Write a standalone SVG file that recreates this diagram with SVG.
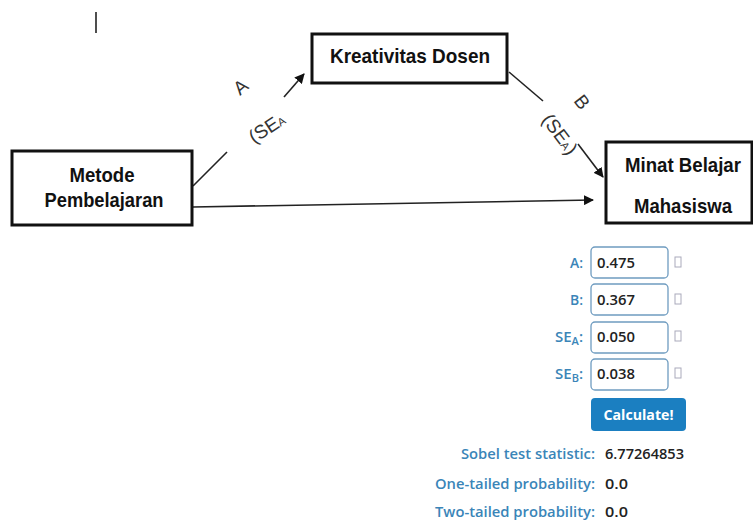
<svg xmlns="http://www.w3.org/2000/svg" width="753" height="522" viewBox="0 0 753 522">
<defs>
<marker id="ah" markerWidth="10" markerHeight="10" refX="9" refY="5" orient="auto" markerUnits="userSpaceOnUse">
<path d="M0,0 L10,5 L0,10 Z" fill="#111"/>
</marker>
<style>
.box{fill:#fff;stroke:#111;stroke-width:3}
.nt{font-family:"Liberation Sans",Arial,sans-serif;font-weight:bold;font-size:21px;fill:#111;text-anchor:middle}
.el{font-family:"Liberation Sans",Arial,sans-serif;font-size:19px;fill:#333}
.ln{stroke:#222;stroke-width:1.6;fill:none}
.lb{font-family:"Open Sans","Noto Sans",sans-serif;font-weight:600;font-size:15px;fill:#3a85b8;text-anchor:end}
.val{font-family:"Open Sans","Noto Sans",sans-serif;font-weight:600;font-size:15px;fill:#222}
.inp{fill:#fff;stroke:#6f9cc0;stroke-width:1.3}
.ic{fill:none;stroke:#aab;stroke-width:1}
</style>
</defs>
<line x1="96" y1="12" x2="96" y2="33" stroke="#222" stroke-width="1.6"/>
<g id="connectors">
<line class="ln" x1="193" y1="186" x2="227" y2="152"/>
<line class="ln" x1="284" y1="97" x2="304" y2="74" marker-end="url(#ah)"/>
<line class="ln" x1="509" y1="72" x2="543" y2="101"/>
<line class="ln" x1="578" y1="144" x2="603" y2="177" marker-end="url(#ah)"/>
<line class="ln" x1="193" y1="207" x2="593" y2="200" marker-end="url(#ah)"/>
<text class="el" transform="translate(240,96) rotate(-40)">A</text>
<text class="el" transform="translate(254,144) rotate(-33)">(SE<tspan font-size="11">A</tspan></text>
<text class="el" transform="translate(573,101) rotate(52)">B</text>
<text class="el" transform="translate(541,120) rotate(53)">(SE<tspan font-size="11">A</tspan>)</text>
</g>
<g id="node-metode">
<rect class="box" x="12" y="151" width="180" height="74"/>
<text class="nt" x="102" y="182" textLength="65" lengthAdjust="spacingAndGlyphs">Metode</text>
<text class="nt" x="104" y="207" textLength="119" lengthAdjust="spacingAndGlyphs">Pembelajaran</text>
</g>
<g id="node-kreativitas">
<rect class="box" x="312" y="34" width="195" height="49"/>
<text class="nt" x="410" y="63" textLength="160" lengthAdjust="spacingAndGlyphs">Kreativitas Dosen</text>
</g>
<g id="node-minat">
<rect class="box" x="606" y="142" width="146" height="81"/>
<text class="nt" x="683" y="172" font-size="19.5" textLength="116" lengthAdjust="spacingAndGlyphs">Minat Belajar</text>
<text class="nt" x="683" y="213" font-size="19.5" textLength="98" lengthAdjust="spacingAndGlyphs">Mahasiswa</text>
</g>
<g id="form">
<text class="lb" x="583" y="268" textLength="13" lengthAdjust="spacingAndGlyphs">A:</text>
<rect class="inp" x="591" y="247" width="77" height="31" rx="4"/>
<text class="val" x="597" y="268" textLength="38" lengthAdjust="spacingAndGlyphs">0.475</text>
<rect class="ic" x="675" y="257" width="6" height="10"/>
<text class="lb" x="583" y="305" textLength="13" lengthAdjust="spacingAndGlyphs">B:</text>
<rect class="inp" x="591" y="284" width="77" height="31" rx="4"/>
<text class="val" x="597" y="305" textLength="38" lengthAdjust="spacingAndGlyphs">0.367</text>
<rect class="ic" x="675" y="294" width="6" height="10"/>
<text class="lb" x="583" y="342">SE<tspan font-size="11" dy="3">A</tspan><tspan dy="-3">:</tspan></text>
<rect class="inp" x="591" y="322" width="77" height="31" rx="4"/>
<text class="val" x="597" y="342" textLength="38" lengthAdjust="spacingAndGlyphs">0.050</text>
<rect class="ic" x="675" y="331" width="6" height="10"/>
<text class="lb" x="583" y="379">SE<tspan font-size="11" dy="3">B</tspan><tspan dy="-3">:</tspan></text>
<rect class="inp" x="591" y="359" width="77" height="31" rx="4"/>
<text class="val" x="597" y="379" textLength="38" lengthAdjust="spacingAndGlyphs">0.038</text>
<rect class="ic" x="675" y="368" width="6" height="10"/>
<rect x="591" y="398" width="95" height="33" rx="4" fill="#1b7fc1"/>
<text x="638.5" y="420" font-family="Open Sans,Noto Sans,sans-serif" font-weight="bold" font-size="15" fill="#fff" text-anchor="middle" textLength="70" lengthAdjust="spacingAndGlyphs">Calculate!</text>
<text class="lb" x="595" y="459" textLength="134" lengthAdjust="spacingAndGlyphs">Sobel test statistic:</text>
<text class="val" x="605" y="459" textLength="79" lengthAdjust="spacingAndGlyphs">6.77264853</text>
<text class="lb" x="595" y="489" textLength="160" lengthAdjust="spacingAndGlyphs">One-tailed probability:</text>
<text class="val" x="605" y="489" textLength="23" lengthAdjust="spacingAndGlyphs">0.0</text>
<text class="lb" x="595" y="517" textLength="160" lengthAdjust="spacingAndGlyphs">Two-tailed probability:</text>
<text class="val" x="605" y="517" textLength="23" lengthAdjust="spacingAndGlyphs">0.0</text>
</g>
</svg>
